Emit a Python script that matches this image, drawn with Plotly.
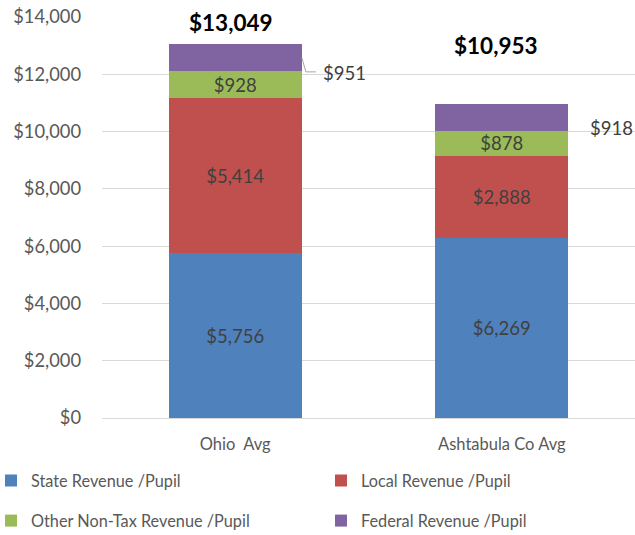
import plotly.graph_objects as go

categories = ["Ohio\u00a0 Avg", "Ashtabula Co Avg"]
state = [5756, 6269]
local = [5414, 2888]
other = [928, 878]
federal = [951, 918]
totals = [13049, 10953]
series_names = ["State Revenue /Pupil", "Local Revenue /Pupil",
                "Other Non-Tax Revenue /Pupil", "Federal Revenue /Pupil"]
colors = ["#4F81BD", "#C0504D", "#9BBB59", "#8064A2"]

FONT = "Lato"
LBL = "#404040"
AX = "#595959"
BW = 0.5

# plot-area geometry (pixels)
W, H = 635, 535
ML, MR, MT, MB = 102, 0, 17, 117
PW, PH = W - ML - MR, H - MT - MB


def px_x(p):
    return (p - ML) / PW


def px_y(p):
    return (H - MB - p) / PH


fig = go.Figure()
series = [state, local, other, federal]
legend_ids = ["legend", "legend2", "legend3", "legend4"]
for i, (name, vals, col) in enumerate(zip(series_names, series, colors)):
    show_text = i < 3
    fig.add_trace(go.Bar(
        x=categories, y=vals, name=name, width=BW,
        marker=dict(color=col, line=dict(width=0)),
        text=[f"${v:,}" for v in vals] if show_text else None,
        textposition="inside" if show_text else "none",
        insidetextanchor="middle",
        constraintext="none",
        cliponaxis=False,
        textfont=dict(family=FONT, size=18.5, color=LBL),
        legend=legend_ids[i],
        hoverinfo="skip",
    ))

annotations = []
# totals above bars
tot_shift = [(-4, 22), (-6, 59)]
for k, t in enumerate(totals):
    annotations.append(dict(x=k, y=t, xref="x", yref="y", text=f"<b>${t:,}</b>",
                            showarrow=False, yanchor="middle",
                            xshift=tot_shift[k][0], yshift=tot_shift[k][1],
                            font=dict(family=FONT, size=22.5, color="#000000")))
# federal labels outside the bars
fed_yshift = [-15, -11]
for k in range(len(categories)):
    base = state[k] + local[k] + other[k]
    mid = base + federal[k] / 2
    annotations.append(dict(x=k, y=mid, xref="x", yref="y", text=f"${federal[k]:,}",
                            showarrow=False, xanchor="left", xshift=86,
                            yshift=fed_yshift[k],
                            font=dict(family=FONT, size=18.5, color=LBL)))

# leader line for Ohio federal label
shapes = []
k = 0
base = state[k] + local[k] + other[k]
mid = base + federal[k] / 2
dy = 14000 / PH
dx = 2.0 / PW
x0 = k + BW / 2
shapes.append(dict(type="path", xref="x", yref="y",
                   path=(f"M {x0} {mid} L {x0 + 4*dx} {mid - 14*dy} "
                         f"L {x0 + 14*dx} {mid - 14*dy}"),
                   line=dict(color="#A6A6A6", width=1)))

legend_common = dict(orientation="h", xanchor="left", yanchor="middle",
                     traceorder="normal", itemwidth=30,
                     font=dict(family=FONT, size=16.3, color=AX),
                     bgcolor="rgba(0,0,0,0)")
leg_pos = [(-9, 481), (321, 481), (-9, 521), (321, 521)]

layout_legends = {}
for lid, (lx, ly) in zip(legend_ids, leg_pos):
    layout_legends[lid] = dict(x=px_x(lx), y=px_y(ly), **legend_common)

fig.update_layout(
    barmode="stack",
    width=W, height=H,
    margin=dict(l=ML, r=MR, t=MT, b=MB, autoexpand=False),
    paper_bgcolor="white", plot_bgcolor="white",
    font=dict(family=FONT, size=17, color=AX),
    uniformtext=dict(mode=False),
    xaxis=dict(range=[-0.5, 1.5], showgrid=False, showline=False, ticks="",
               tickfont=dict(family=FONT, size=16.5, color=AX),
               ticklabelstandoff=14, fixedrange=True, automargin=False),
    yaxis=dict(range=[0, 14000], dtick=2000, tickprefix="$", tickformat=",",
               showgrid=True, gridcolor="#D9D9D9", gridwidth=1,
               zeroline=True, zerolinecolor="#D9D9D9", zerolinewidth=1,
               showline=False, ticks="",
               tickfont=dict(family=FONT, size=18.3, color=AX),
               ticklabelstandoff=20, fixedrange=True, automargin=False),
    annotations=annotations,
    shapes=shapes,
    showlegend=True,
    **layout_legends,
)

fig.write_html("out.html", config={"displayModeBar": False},
               post_script="document.body.style.margin='0';document.body.style.overflow='hidden';")
